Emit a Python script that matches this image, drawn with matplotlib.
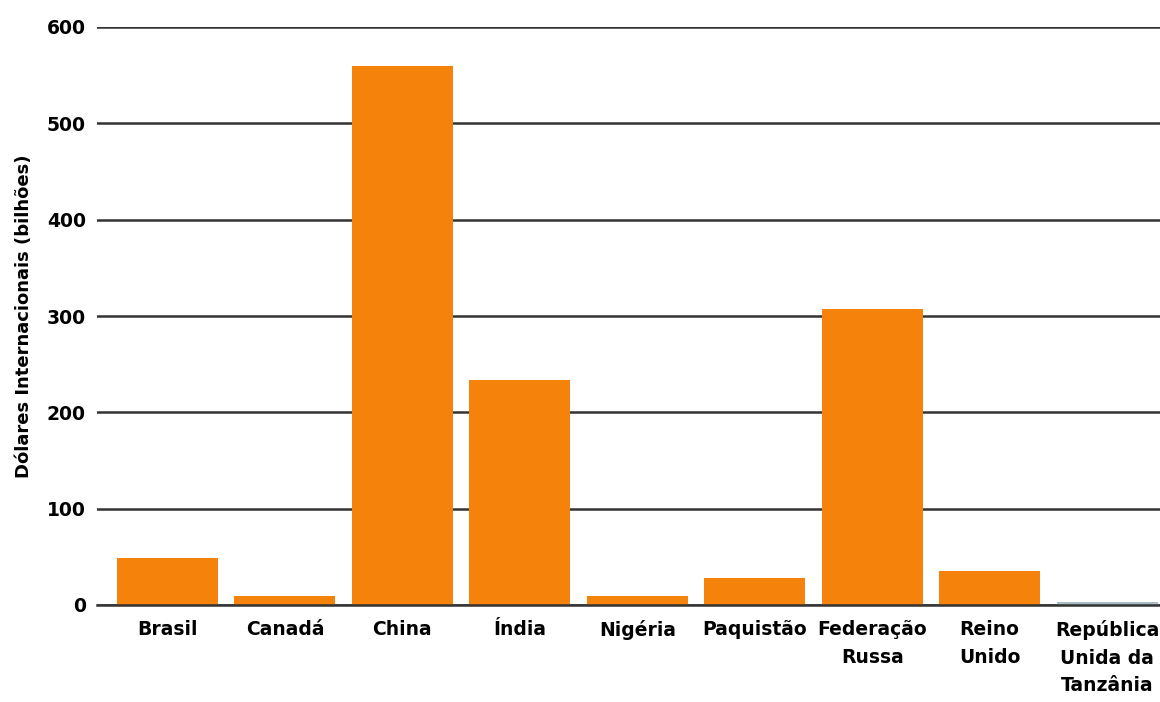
import matplotlib.pyplot as plt
import numpy as np

# Data
paises = ["Brasil", "Canadá", "China", "Índia", "Nigéria", "Paquistão",
          "Federação\nRussa", "Reino\nUnido", "República\nUnida da\nTanzânia"]
valores = [49, 9, 559, 234, 9, 28, 307, 35, 3]
cores = ["#F5820A"] * 8 + ["#A8BEC4"]
y_ticks = [0, 100, 200, 300, 400, 500, 600]

plt.rcParams['font.family'] = ['DejaVu Sans']

fig = plt.figure(figsize=(11.6, 7.02), dpi=100)
ax = fig.add_axes([97 / 1160, 97 / 702, 1063 / 1160, 578 / 702])

x = np.arange(len(paises))
ax.bar(x, valores, width=0.86, color=cores, zorder=2)

ax.set_xlim(-0.6, 8.45)
ax.set_ylim(0, 600)
ax.set_yticks(y_ticks)
ax.set_yticklabels([str(v) for v in y_ticks], fontsize=13.5, fontweight='heavy')
ax.set_xticks(x)
ax.set_xticklabels(paises, fontsize=13.5, fontweight='heavy', linespacing=1.55)

ax.grid(axis='y', color='#333333', linewidth=1.8, zorder=1)
ax.tick_params(axis='both', length=0)
ax.tick_params(axis='y', pad=8)
ax.tick_params(axis='x', pad=11)
for s in ['top', 'right', 'left']:
    ax.spines[s].set_visible(False)
ax.spines['bottom'].set_color('#333333')
ax.spines['bottom'].set_linewidth(1.8)
ax.spines['bottom'].set_zorder(3)

ax.set_ylabel("Dólares Internacionais (bilhões)", fontsize=13, fontweight='heavy', labelpad=10)

fig.savefig("out.png", dpi=100)
